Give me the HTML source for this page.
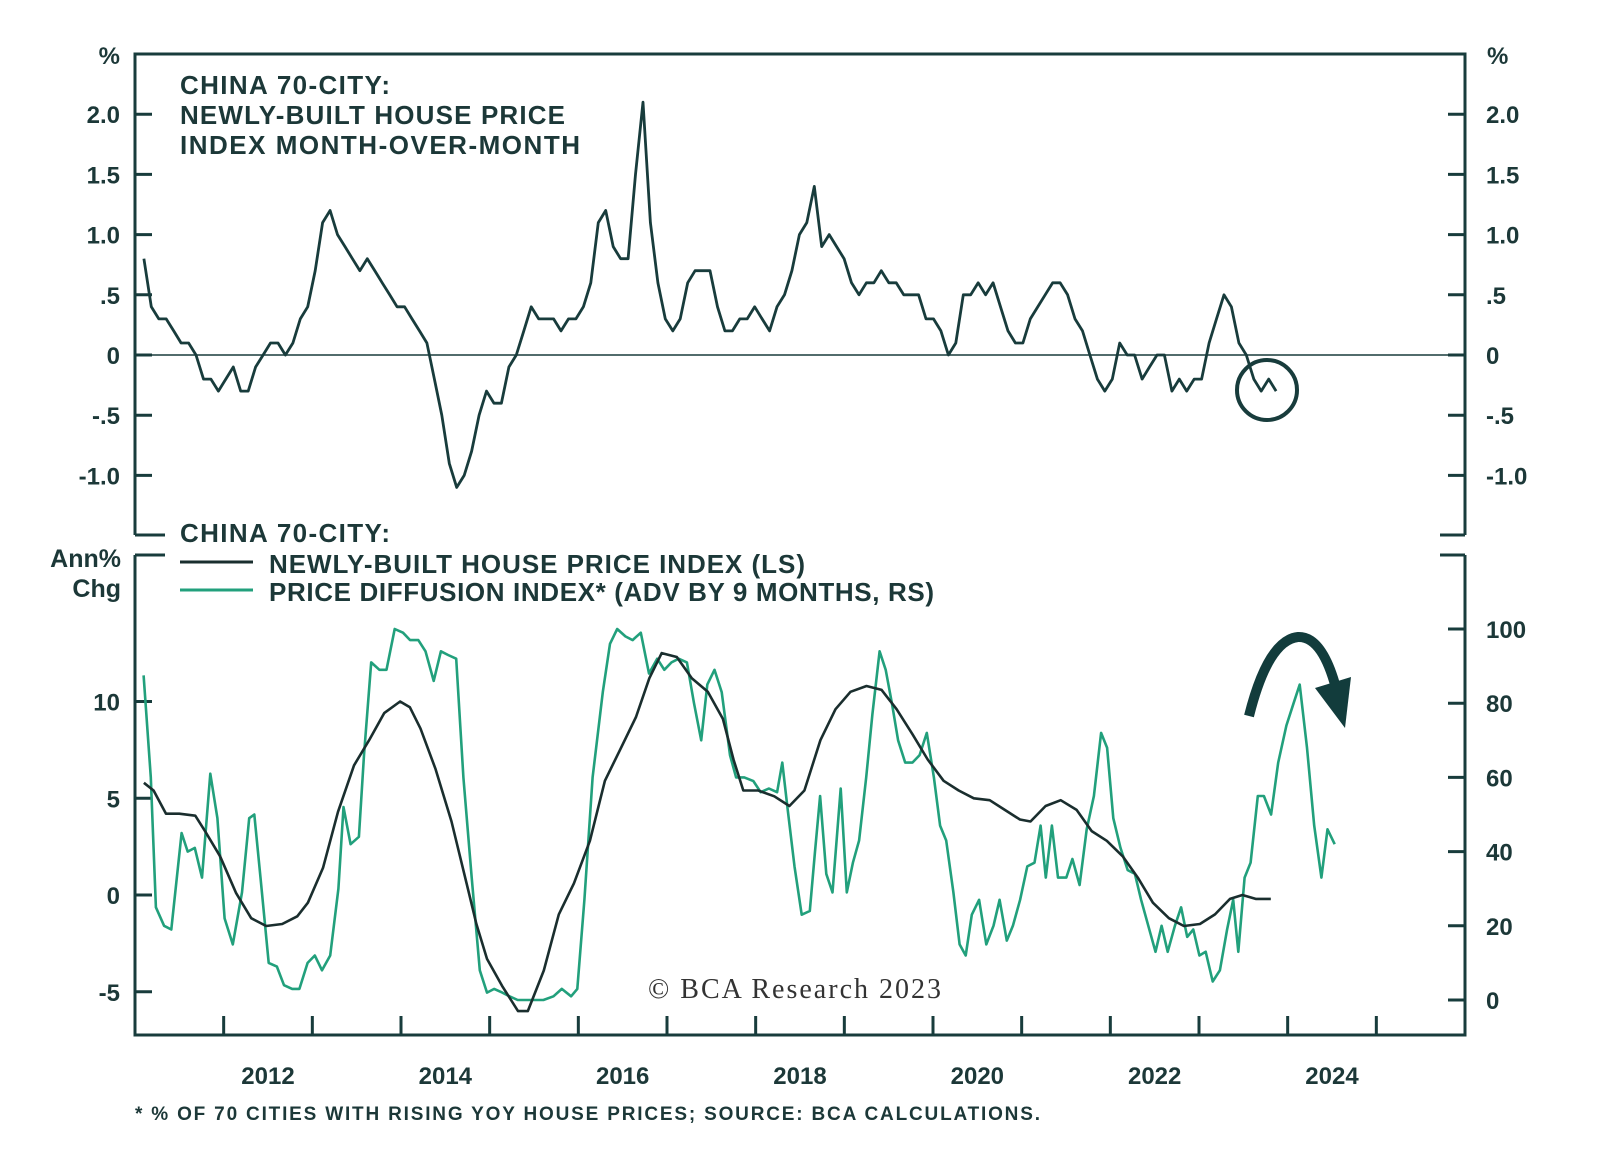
<!DOCTYPE html>
<html><head><meta charset="utf-8">
<style>
html,body{margin:0;padding:0;background:#fff;}
svg{display:block;}
text{font-family:"Liberation Sans",sans-serif;font-weight:bold;fill:#1c3838;}
</style></head>
<body>
<svg id="chart" width="1600" height="1168" viewBox="0 0 1600 1168">
</svg>
<script>
// ---- data ----
const momStart = 2011.1, momEnd = 2023.87;
const momValues = [0.8,0.4,0.3,0.3,0.2,0.1,0.1,0.0,-0.2,-0.2,-0.3,-0.2,-0.1,-0.3,-0.3,-0.1,0.0,0.1,0.1,0.0,0.1,0.3,0.4,0.7,1.1,1.2,1.0,0.9,0.8,0.7,0.8,0.7,0.6,0.5,0.4,0.4,0.3,0.2,0.1,-0.2,-0.5,-0.9,-1.1,-1.0,-0.8,-0.5,-0.3,-0.4,-0.4,-0.1,0.0,0.2,0.4,0.3,0.3,0.3,0.2,0.3,0.3,0.4,0.6,1.1,1.2,0.9,0.8,0.8,1.5,2.1,1.1,0.6,0.3,0.2,0.3,0.6,0.7,0.7,0.7,0.4,0.2,0.2,0.3,0.3,0.4,0.3,0.2,0.4,0.5,0.7,1.0,1.1,1.4,0.9,1.0,0.9,0.8,0.6,0.5,0.6,0.6,0.7,0.6,0.6,0.5,0.5,0.5,0.3,0.3,0.2,0.0,0.1,0.5,0.5,0.6,0.5,0.6,0.4,0.2,0.1,0.1,0.3,0.4,0.5,0.6,0.6,0.5,0.3,0.2,0.0,-0.2,-0.3,-0.2,0.1,0.0,0.0,-0.2,-0.1,0.0,0.0,-0.3,-0.2,-0.3,-0.2,-0.2,0.1,0.3,0.5,0.4,0.1,0.0,-0.2,-0.3,-0.2,-0.3];

const yoyDates = [2011.10,2011.21,2011.35,2011.50,2011.68,2011.79,2011.96,2012.14,2012.31,2012.48,2012.66,2012.83,2012.95,2013.12,2013.29,2013.47,2013.64,2013.81,2013.99,2014.10,2014.22,2014.39,2014.57,2014.74,2014.85,2014.97,2015.14,2015.32,2015.43,2015.61,2015.78,2015.95,2016.13,2016.30,2016.47,2016.65,2016.80,2016.94,2017.11,2017.28,2017.46,2017.63,2017.75,2017.86,2018.03,2018.21,2018.38,2018.55,2018.73,2018.90,2019.07,2019.25,2019.42,2019.59,2019.77,2019.94,2020.12,2020.29,2020.46,2020.64,2020.81,2020.98,2021.10,2021.27,2021.44,2021.62,2021.79,2021.96,2022.14,2022.31,2022.48,2022.66,2022.83,2023.01,2023.18,2023.35,2023.49,2023.64,2023.81];
const yoyValues = [5.8,5.4,4.2,4.2,4.1,3.3,2.0,0.1,-1.2,-1.6,-1.5,-1.1,-0.4,1.4,4.3,6.7,8.0,9.4,10.0,9.7,8.6,6.5,3.8,0.6,-1.5,-3.3,-4.7,-6.0,-6.0,-3.9,-1.0,0.6,2.8,5.9,7.5,9.2,11.2,12.5,12.3,11.2,10.5,9.1,7.0,5.4,5.4,5.1,4.6,5.4,8.0,9.6,10.5,10.8,10.6,9.6,8.3,7.0,5.9,5.4,5.0,4.9,4.4,3.9,3.8,4.6,4.9,4.4,3.3,2.8,2.0,0.9,-0.4,-1.2,-1.6,-1.5,-1.0,-0.2,0.0,-0.2,-0.2];

const diffDates = [2011.097,2011.178,2011.236,2011.328,2011.409,2011.525,2011.594,2011.675,2011.756,2011.849,2011.929,2012.010,2012.103,2012.207,2012.288,2012.346,2012.415,2012.508,2012.600,2012.681,2012.773,2012.854,2012.947,2013.028,2013.109,2013.201,2013.294,2013.351,2013.432,2013.525,2013.583,2013.664,2013.756,2013.837,2013.929,2014.022,2014.103,2014.195,2014.276,2014.369,2014.450,2014.531,2014.623,2014.704,2014.797,2014.889,2014.970,2015.051,2015.143,2015.224,2015.316,2015.408,2015.489,2015.606,2015.720,2015.814,2015.918,2015.988,2016.068,2016.161,2016.276,2016.357,2016.438,2016.531,2016.612,2016.704,2016.797,2016.889,2016.970,2017.051,2017.132,2017.225,2017.305,2017.386,2017.455,2017.536,2017.617,2017.710,2017.779,2017.872,2017.975,2018.057,2018.149,2018.242,2018.300,2018.358,2018.438,2018.519,2018.611,2018.669,2018.727,2018.797,2018.866,2018.959,2019.028,2019.097,2019.166,2019.247,2019.317,2019.398,2019.467,2019.536,2019.606,2019.687,2019.768,2019.849,2019.930,2020.010,2020.080,2020.149,2020.230,2020.300,2020.369,2020.438,2020.520,2020.601,2020.682,2020.751,2020.832,2020.901,2020.982,2021.063,2021.145,2021.214,2021.272,2021.341,2021.410,2021.503,2021.572,2021.653,2021.734,2021.815,2021.896,2021.964,2022.034,2022.115,2022.196,2022.277,2022.347,2022.428,2022.509,2022.578,2022.647,2022.728,2022.798,2022.867,2022.936,2023.005,2023.075,2023.155,2023.236,2023.317,2023.386,2023.443,2023.514,2023.582,2023.663,2023.732,2023.813,2023.893,2023.986,2024.067,2024.136,2024.218,2024.299,2024.380,2024.449,2024.530];
const diffValues = [87.5,60,25,20,19,45,40,41,33,61,49,22,15,29,49,50,33,10,9,4,3,3,10,12,8,12,30,52,42,44,66,91,89,89,100,99,97,97,94,86,94,93,92,60,33,8,2,3,2,1,0,0,0,0,1,3,1,3,27,60,83,96,100,98,97,99,88,92,89,91,92,91,80,70,85,89,83,66,60,60,59,56,57,56,64,52,36,23,24,40,55,34,29,57,29,37,43,60,77,94,89,80,70,64,64,66,72,60,47,43,29,15,12,23,27,15,20,27,16,20,27,36,37,47,33,47,33,33,38,31,46,55,72,68,49,41,35,34,27,20,13,20,13,20,25,17,19,12,13,5,8,19,27,13,33,37,55,55,50,64,74,80,85,68,47,33,46,42];

const topTicks = [2.0,1.5,1.0,0.5,0,-0.5,-1.0];
const topTickLabels = ["2.0","1.5","1.0",".5","0","-.5","-1.0"];
const lsTicks = [10,5,0,-5];
const rsTicks = [100,80,60,40,20,0];
const yearLabels = [2012,2014,2016,2018,2020,2022,2024];

// ---- scales ----
const L=135,R=1465;
const x = yr => L + (yr-2011)*(R-L)/15;
const yTop = v => 355 - v*120.4;
const yLS = v => 895 - v*19.35;
const yRS = v => 1000 - v*3.71;

const svg=document.getElementById('chart');
const NS='http://www.w3.org/2000/svg';
function mk(tag,attrs,parent){const e=document.createElementNS(NS,tag);for(const k in attrs)e.setAttribute(k,attrs[k]);(parent||svg).appendChild(e);return e;}
const DARK='#183c3c', GREEN='#22a07c';

const frame=mk('path',{d:`M${L} 535 V54 H${R} V535 M${L} 535 H165 M1440 535 H${R} M${L} 555 V1035 H${R} V555 M${L} 555 H165 M1440 555 H${R}`,fill:'none',stroke:DARK,'stroke-width':3});



topTicks.forEach((v,i)=>{
  const y=yTop(v);
  const t=mk('path',{d:`M${L} ${y} H${L+17} M${R-17} ${y} H${R}`,stroke:DARK,'stroke-width':3});
  
  
  const a=mk('text',{x:120,y:y+9,'text-anchor':'end','font-size':24});a.textContent=topTickLabels[i];
  
  
  const b=mk('text',{x:1486,y:y+9,'font-size':24});b.textContent=topTickLabels[i];
  
  
});
const zl=mk('line',{x1:L,x2:R,y1:yTop(0),y2:yTop(0),stroke:DARK,'stroke-width':1.5});



lsTicks.forEach(v=>{
  const y=yLS(v);
  const t=mk('path',{d:`M${L} ${y} H${L+17}`,stroke:DARK,'stroke-width':3});
  
  
  const a=mk('text',{x:120,y:y+9,'text-anchor':'end','font-size':24});a.textContent=String(v);
  
  
});
rsTicks.forEach(v=>{
  const y=yRS(v);
  const t=mk('path',{d:`M${R-17} ${y} H${R}`,stroke:DARK,'stroke-width':3});
  
  
  const a=mk('text',{x:1486,y:y+9,'font-size':24});a.textContent=String(v);
  
  
});
for(let yr=2012;yr<=2025;yr++){
  const t=mk('line',{x1:x(yr),x2:x(yr),y1:1035,y2:1016,stroke:DARK,'stroke-width':3});
  
  
}
yearLabels.forEach(yr=>{
  const a=mk('text',{x:x(yr+0.5),y:1084,'text-anchor':'middle','font-size':24});a.textContent=String(yr);
  
  
});

function draw(dates,vals,ys,color,w,name){
  const pts=vals.map((v,i)=>`${x(dates[i]).toFixed(1)},${ys(v).toFixed(1)}`).join(' ');
  const p=mk('polyline',{points:pts,fill:'none',stroke:color,'stroke-width':w,'stroke-linejoin':'round'});
  
  
}
const momDates = momValues.map((v,i)=>momStart+i*(momEnd-momStart)/(momValues.length-1));
draw(momDates,momValues,yTop,DARK,2.8,'mom-line');
draw(diffDates,diffValues,yRS,GREEN,2.6,'diffusion-line');
draw(yoyDates,yoyValues,yLS,'#1a2e2e',2.6,'yoy-line');
</script>
<script>
(function(){
const svg=document.getElementById('chart');
svg.insertAdjacentHTML('beforeend',`
<text x="120" y="64" text-anchor="end" font-size="24">%</text>
<text x="1487" y="64" font-size="24">%</text>
<text x="180" y="94" font-size="26" textLength="210">CHINA 70-CITY:</text>
<text x="180" y="124" font-size="26" textLength="385">NEWLY-BUILT HOUSE PRICE</text>
<text x="180" y="154" font-size="26" textLength="400">INDEX MONTH-OVER-MONTH</text>
<text x="180" y="542" font-size="26" textLength="210">CHINA 70-CITY:</text>
<line x1="180" x2="253" y1="562" y2="562" stroke="#1a2e2e" stroke-width="3"/>
<text x="269" y="573" font-size="26" textLength="536">NEWLY-BUILT HOUSE PRICE INDEX (LS)</text>
<line x1="180" x2="253" y1="590" y2="590" stroke="#22a07c" stroke-width="3"/>
<text x="269" y="601" font-size="26" textLength="665">PRICE DIFFUSION INDEX* (ADV BY 9 MONTHS, RS)</text>
<text x="121" y="567" text-anchor="end" font-size="25">Ann%</text>
<text x="121" y="597" text-anchor="end" font-size="25">Chg</text>
<text x="648" y="998" font-size="28" textLength="293" style="font-family:'Liberation Serif',serif;font-weight:normal;fill:#333">© BCA Research 2023</text>
<text x="135" y="1120" font-size="19" textLength="905">* % OF 70 CITIES WITH RISING YOY HOUSE PRICES; SOURCE: BCA CALCULATIONS.</text>
<circle cx="1267" cy="390" r="30" fill="none" stroke="#183c3c" stroke-width="4"/>
<path d="M1249 716 Q1268 640 1298 637 Q1322 636 1336 688" fill="none" stroke="#123c3c" stroke-width="10"/>
<path d="M1315 688 L1351 677 L1345 728 Z" fill="#123c3c"/>
`);
})();
</script>
</body></html>
